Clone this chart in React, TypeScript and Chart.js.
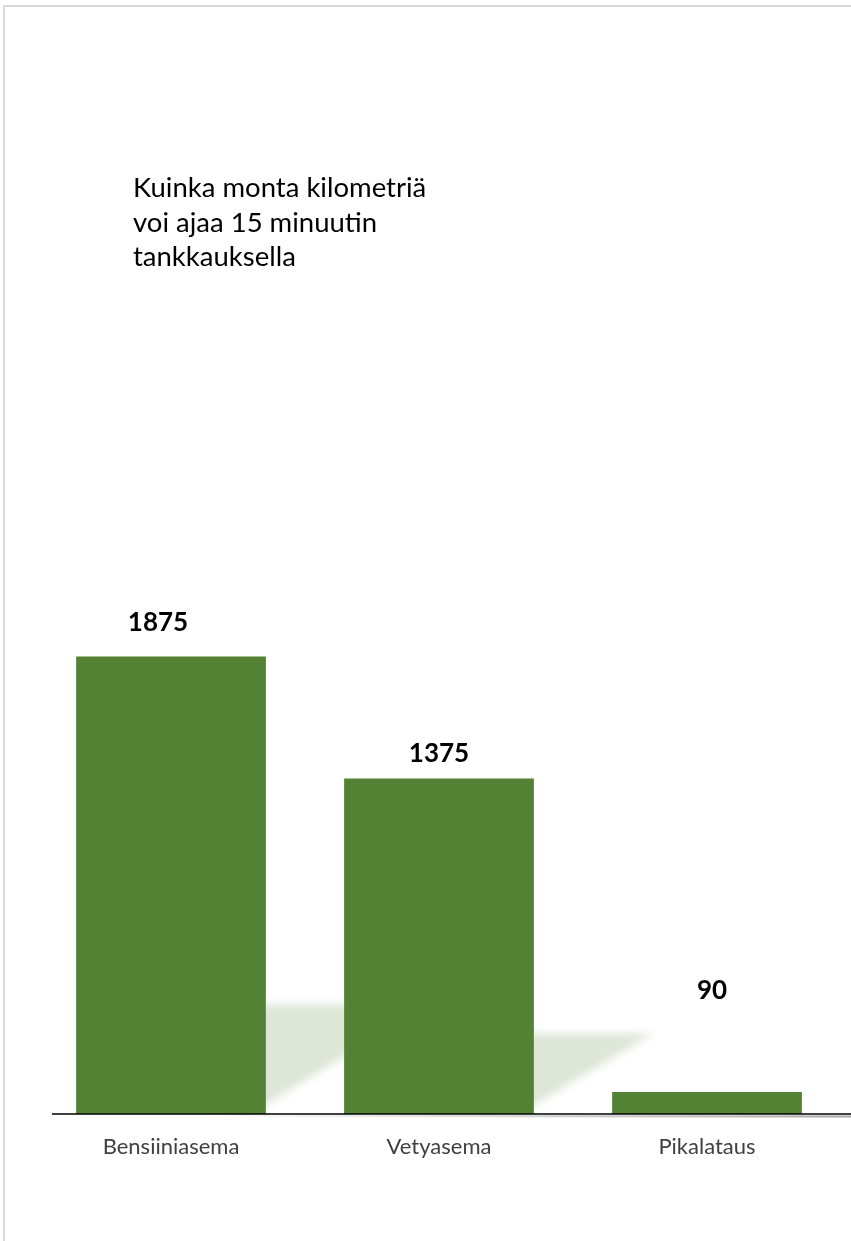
import { useEffect, useRef } from "react";
import { Chart, registerables } from "chart.js";

Chart.register(...registerables);

// Chart content
const titleLines = ["Kuinka monta kilometriä", "voi ajaa 15 minuutin", "tankkauksella"];
const categories = ["Bensiiniasema", "Vetyasema", "Pikalataus"];
const kilometres = [1875, 1375, 90];

// Hand-placed value label nudges (px): horizontal shift and rise above the bar top
const labelShiftX = [-13, 0, 5];
const labelRise = [34, 25, 101];

const GREEN = "#548235";
const FONT = "Lato, 'Noto Sans', sans-serif";

const framePlugin = {
  id: "pageFrame",
  beforeDraw(chart: any) {
    const { ctx, width, height } = chart;
    ctx.save();
    ctx.fillStyle = "#ffffff";
    ctx.fillRect(0, 0, width, height);
    ctx.strokeStyle = "#d9d9d9";
    ctx.lineWidth = 2;
    ctx.strokeRect(4, 6, width + 40, height + 40);
    ctx.restore();
  },
};

const titlePlugin = {
  id: "sideTitle",
  afterDraw(chart: any) {
    const { ctx } = chart;
    ctx.save();
    ctx.fillStyle = "#000000";
    ctx.font = `27.5px ${FONT}`;
    ctx.textAlign = "left";
    ctx.textBaseline = "alphabetic";
    titleLines.forEach((line, i) => {
      ctx.fillText(line, 133, 197 + i * 34.5);
    });
    ctx.restore();
  },
};

const shadowPlugin = {
  id: "barShadows",
  beforeDatasetsDraw(chart: any) {
    const { ctx, chartArea } = chart;
    const meta = chart.getDatasetMeta(0);
    ctx.save();
    ctx.beginPath();
    ctx.rect(0, 0, chart.width, chartArea.bottom);
    ctx.clip();
    ctx.filter = "blur(4px)";
    ctx.fillStyle = "rgba(84,130,53,0.2)";
    meta.data.forEach((bar: any) => {
      const { x, y, base, width } = bar.getProps(["x", "y", "base", "width"], true);
      const left = x - width / 2;
      const right = x + width / 2;
      const h = base - y;
      ctx.beginPath();
      ctx.moveTo(left, base);
      ctx.lineTo(right - 15, base);
      ctx.lineTo(right + h * 0.356, base - h * 0.24);
      ctx.lineTo(left + h * 0.356, base - h * 0.24);
      ctx.closePath();
      ctx.fill();
    });
    ctx.restore();
  },
};

const baselinePlugin = {
  id: "baseline",
  afterDatasetsDraw(chart: any) {
    const { ctx, chartArea } = chart;
    const y = chartArea.bottom;
    ctx.save();
    const grad = ctx.createLinearGradient(200, 0, chart.width, 0);
    grad.addColorStop(0, "rgba(0,0,0,0)");
    grad.addColorStop(1, "rgba(0,0,0,0.35)");
    ctx.strokeStyle = grad;
    ctx.lineWidth = 2;
    ctx.beginPath();
    ctx.moveTo(200, y + 2);
    ctx.lineTo(chart.width, y + 2.5);
    ctx.stroke();
    ctx.strokeStyle = "#000000";
    ctx.lineWidth = 1.5;
    ctx.beginPath();
    ctx.moveTo(52, y);
    ctx.lineTo(chart.width, y);
    ctx.stroke();
    ctx.restore();
  },
};

const valueLabelPlugin = {
  id: "valueLabels",
  afterDatasetsDraw(chart: any) {
    const { ctx } = chart;
    const meta = chart.getDatasetMeta(0);
    ctx.save();
    ctx.fillStyle = "#000000";
    ctx.font = `bold 26px ${FONT}`;
    ctx.textAlign = "center";
    ctx.textBaseline = "middle";
    meta.data.forEach((bar: any, i: number) => {
      const { x, y } = bar.getProps(["x", "y"], true);
      ctx.fillText(String(kilometres[i]), x + labelShiftX[i], y - labelRise[i]);
    });
    ctx.restore();
  },
};

export default function App() {
  const canvasRef = useRef<HTMLCanvasElement | null>(null);

  useEffect(() => {
    if (!canvasRef.current) return;
    const chart = new Chart(canvasRef.current, {
      type: "bar",
      data: {
        labels: categories,
        datasets: [
          {
            data: kilometres,
            backgroundColor: GREEN,
            borderWidth: 0,
            categoryPercentage: 1,
            barPercentage: 0.708,
          },
        ],
      },
      options: {
        responsive: false,
        animation: false,
        devicePixelRatio: 1,
        layout: { padding: { top: 626, left: 37, right: 10, bottom: 67 } },
        plugins: {
          legend: { display: false },
          title: { display: false },
          tooltip: { enabled: false },
        },
        scales: {
          x: {
            grid: { display: false, drawTicks: false },
            border: { display: false },
            ticks: {
              color: "#404040",
              font: { family: FONT, size: 22 },
              padding: 20,
              maxRotation: 0,
            },
            afterFit(scale: any) {
              scale.height = 60;
            },
          },
          y: {
            display: false,
            min: 0,
            max: 2000,
          },
        },
      },
      plugins: [framePlugin, shadowPlugin, baselinePlugin, valueLabelPlugin, titlePlugin],
    });
    return () => chart.destroy();
  }, []);

  return (
    <div style={{ position: "absolute", left: 0, top: 0, width: 851, height: 1241, background: "#fff" }}>
      <canvas ref={canvasRef} width={851} height={1241} style={{ display: "block" }} />
    </div>
  );
}
